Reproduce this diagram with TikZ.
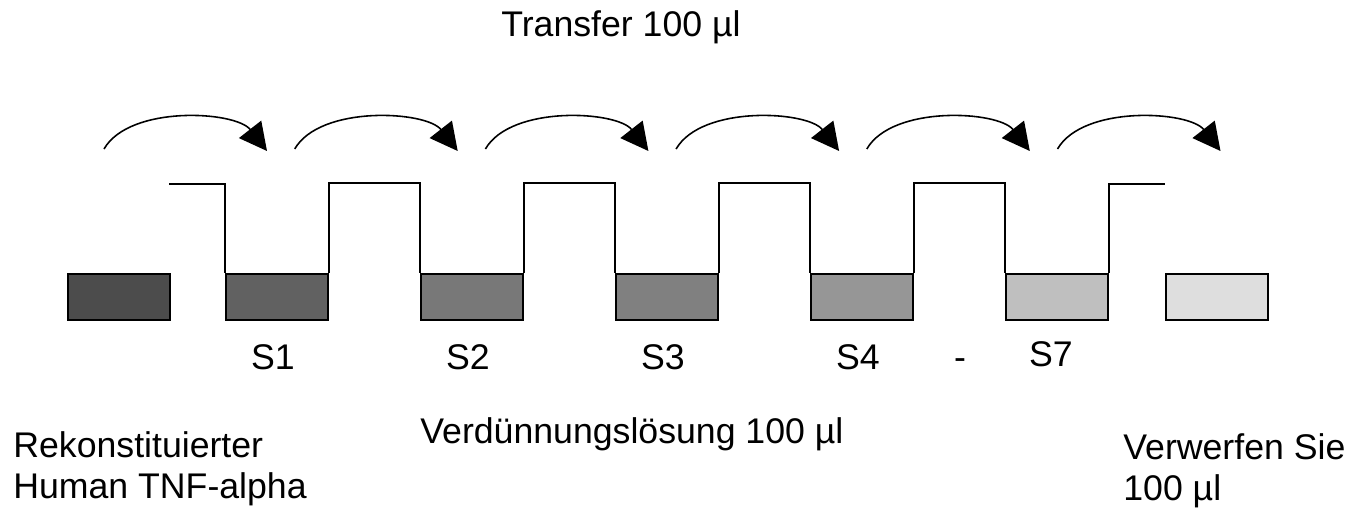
\documentclass[tikz,border=0pt]{standalone}
\usepackage{fontspec}
\setmainfont{Liberation Sans}
\usetikzlibrary{arrows.meta}
\tikzset{
  well/.style={draw, line width=1.1pt, minimum width=2.04cm, minimum height=0.92cm, inner sep=0pt},
  wall/.style={line width=0.8pt},
  transfer/.style={line width=0.9pt, -{Triangle[length=0.55cm, width=0.56cm]}},
  txt/.style={font=\fontsize{20.3}{23}\selectfont, inner sep=0pt},
}
\begin{document}
\begin{tikzpicture}[x=0.02cm, y=0.02cm]
  \useasboundingbox (0,0) rectangle (1368,512);
  % wells
  \node[well, fill=black!70] (w0) at (119,215) {};
  \node[well, fill=black!62] (w1) at (277,215) {};
  \node[well, fill=black!53] (w2) at (472,215) {};
  \node[well, fill=black!50] (w3) at (667,215) {};
  \node[well, fill=black!41] (w4) at (862,215) {};
  \node[well, fill=black!25] (w5) at (1057,215) {};
  \node[well, fill=black!13] (w6) at (1217,215) {};
  % walls between the wells
  \coordinate (in) at (169,328);
  \coordinate (out) at (1165,328);
  \draw[wall] (in) -| (w1.north west);
  \foreach \i [evaluate=\i as \j using int(\i+1)] in {1,...,4} {
    \draw[wall] (w\i.north east) -- ++(0,90) -| (w\j.north west);
  }
  \draw[wall] (w5.north east) |- (out);
  % transfer arrows
  \foreach \i in {0,...,5} {
    \coordinate (src\i) at (104+190.7*\i,363);
    \coordinate (dst\i) at (267+190.7*\i,361);
    \draw[transfer] (src\i) to[out=60, in=128, looseness=0.8] (dst\i);
  }
  % texts
  \node[txt, anchor=base west] (move) at (501,476) {Transfer 100 µl};
  \node[txt, anchor=base] (s1) at (273,143) {S1};
  \node[txt, anchor=base] (s2) at (468,143) {S2};
  \node[txt, anchor=base] (s3) at (663,143) {S3};
  \node[txt, anchor=base] (s4) at (858,143) {S4};
  \node[txt, anchor=base] (dash) at (960,143) {-};
  \node[txt, anchor=base] (s7) at (1051,146) {S7};
  \node[txt, anchor=base west] (dil) at (420,69) {Verdünnungslösung 100 µl};
  \node[txt, anchor=base west, align=left] (std) at (13,14) {Rekonstituierter\\Human TNF-alpha};
  \node[txt, anchor=base west, align=left] (waste) at (1123,12) {Verwerfen Sie\\100 µl};
\end{tikzpicture}
\end{document}
